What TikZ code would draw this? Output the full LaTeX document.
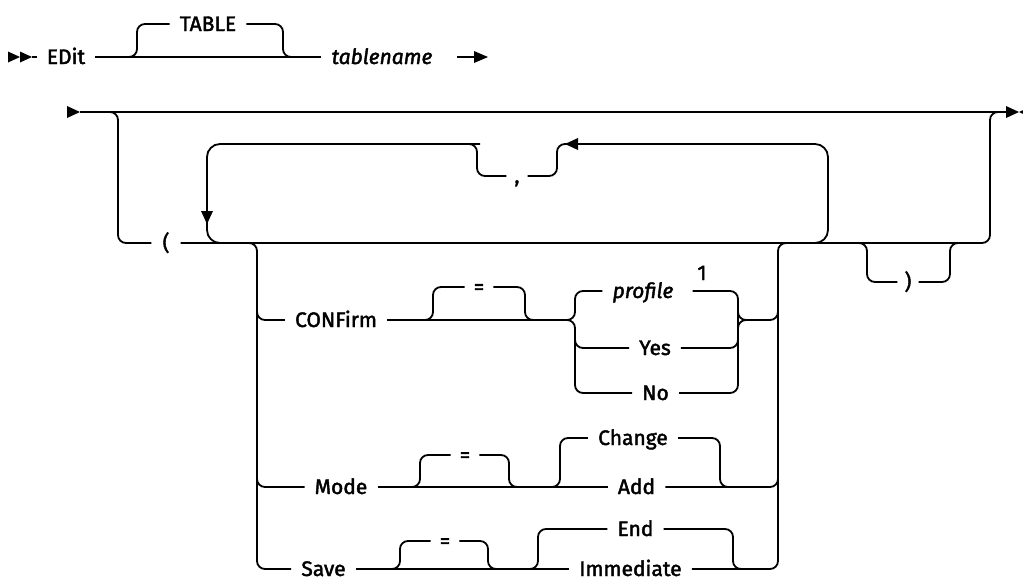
\documentclass[tikz,border=0pt]{standalone}
\usepackage{fontspec}
\setmainfont{Fira Sans}[UprightFeatures={FakeBold=2}, ItalicFeatures={FakeBold=2}]
\begin{document}
\begin{tikzpicture}[x=1pt,y=-1pt,
  ln/.style={line width=1.8pt},
  rr/.style={line width=1.8pt, rounded corners=8pt},
  big/.style={line width=1.8pt, rounded corners=13pt},
  lbl/.style={inner xsep=10pt, inner ysep=0pt, text height=14pt, text depth=0pt, font=\fontsize{21}{24}\selectfont},
  var/.style={lbl, font=\fontsize{21}{24}\selectfont\itshape},
  pun/.style={lbl, inner xsep=8pt},
  tip/.style={fill=black, draw=none}]
\useasboundingbox (0,0) rectangle (1023,582);

% ---------- line 1 ----------
\fill[tip] (8,51.5) -- (20,57) -- (8,62.5) -- cycle;
\fill[tip] (20,51.5) -- (32,57) -- (20,62.5) -- cycle;
\coordinate (s1) at (32,57);
\node[lbl] (edit) at (66,57) {EDit};
\node[lbl] (table) at (208,24) {TABLE};
\node[var] (tname) at (382,57) {tablename};
\draw[ln] (s1) -- (edit.west);
\draw[ln] (edit.east) -- (tname.west);
\draw[rr] (127,57) -- (137,57) -- (137,24) -- (table.west);
\draw[rr] (table.east) -- (283,24) -- (283,57) -- (293,57);
\coordinate (a1) at (457,57);
\coordinate (e1) at (488,57);
\draw[ln] (a1) -- (476,57);
\fill[tip] (474,51) -- (e1) -- (474,63) -- cycle;

% ---------- line 2 ----------
\fill[tip] (67,106) -- (80,112) -- (67,118) -- cycle;
\coordinate (s2) at (80,112);
\coordinate (e2) at (1008,112);
\draw[ln] (s2) -- (e2);
\fill[tip] (1006,106) -- (1019,112) -- (1006,118) -- cycle;
\fill[tip] (1032,106) -- (1019,112) -- (1032,118) -- cycle;

\node[pun, inner xsep=11pt] (lp) at (166,243) {(};
\draw[rr] (100,112) -- (118,112) -- (118,243) -- (lp.west);
\draw[rr] (lp.east) -- (990,243) -- (990,112) -- (1008,112);

% repeat loop with comma
\node[pun] (comma) at (517,176) {,};
\draw[big] (480,144) -- (207,144) -- (207,243) -- (240,243);
\draw[rr] (comma.west) -- (477,176) -- (477,144) -- (467,144);
\draw[rr] (comma.east) -- (557,176) -- (557,144) -- (567,144);
\draw[big] (800,243) -- (828,243) -- (828,144) -- (570,144);
\fill[tip] (578,138) -- (565,144) -- (578,150) -- cycle;
\fill[tip] (201,211) -- (213,211) -- (207,224) -- cycle;

% closing paren
\node[pun, inner xsep=7pt] (rp) at (908,282) {)};
\draw[rr] (857,243) -- (867,243) -- (867,282) -- (rp.west);
\draw[rr] (rp.east) -- (950,282) -- (950,243) -- (960,243);

% ---------- choice group ----------
\node[lbl] (confirm) at (336,320) {CONFirm};
\node[lbl] (mode) at (341,487) {Mode};
\node[lbl] (save) at (323.5,569) {Save};
\draw[rr] (240,243) -- (257,243) -- (257,569) -- (save.west);
\draw[rr] (257,300) -- (257,320) -- (confirm.west);
\draw[rr] (257,470) -- (257,487) -- (mode.west);

% CONFirm row
\node[pun, inner xsep=9pt] (eq1) at (479,287) {=};
\draw[rr] (423,320) -- (433,320) -- (433,287) -- (eq1.west);
\draw[rr] (eq1.east) -- (525,287) -- (525,320) -- (535,320);
\node[var] (profile) at (643,291) {profile};
\node[lbl, inner xsep=0pt] (fn) at (702,273) {1};
\node[lbl] (yes) at (655,348) {Yes};
\node[lbl] (no) at (655.5,393) {No};
\draw[rr] (confirm.east) -- (575,320) -- (575,291) -- (profile.west);
\draw[rr] (560,320) -- (575,320) -- (575,393) -- (no.west);
\draw[rr] (575,330) -- (575,348) -- (yes.west);
\draw[rr] ([xshift=9pt]profile.east) -- (738,291) -- (738,393) -- (no.east);
\draw[rr] (yes.east) -- (738,348) -- (738,330);
\draw[rr] (738,300) -- (738,320) -- (778,320) -- (778,300);
\draw[rr] (738,340) -- (738,320) -- (750,320);

% Mode row
\node[pun, inner xsep=9pt] (eq2) at (465,455) {=};
\node[lbl] (change) at (633,438) {Change};
\node[lbl] (add) at (636.5,487) {Add};
\draw[ln] (mode.east) -- (add.west);
\draw[rr] (410,487) -- (420,487) -- (420,455) -- (eq2.west);
\draw[rr] (eq2.east) -- (509,455) -- (509,487) -- (519,487);
\draw[rr] (550,487) -- (560,487) -- (560,438) -- (change.west);
\draw[rr] (change.east) -- (720,438) -- (720,487) -- (730,487);
\draw[rr] (add.east) -- (778,487) -- (778,470);

% Save row
\node[pun, inner xsep=9pt] (eq3) at (445,541) {=};
\node[lbl] (end) at (635.5,529) {End};
\node[lbl] (imm) at (630.5,569) {Immediate};
\draw[ln] (save.east) -- (imm.west);
\draw[rr] (390,569) -- (400,569) -- (400,541) -- (eq3.west);
\draw[rr] (eq3.east) -- (488,541) -- (488,569) -- (498,569);
\draw[rr] (528,569) -- (538,569) -- (538,529) -- (end.west);
\draw[rr] (end.east) -- (733,529) -- (733,569) -- (745,569);
\draw[rr] (imm.east) -- (778,569) -- (778,243) -- (800,243);
\end{tikzpicture}
\end{document}
